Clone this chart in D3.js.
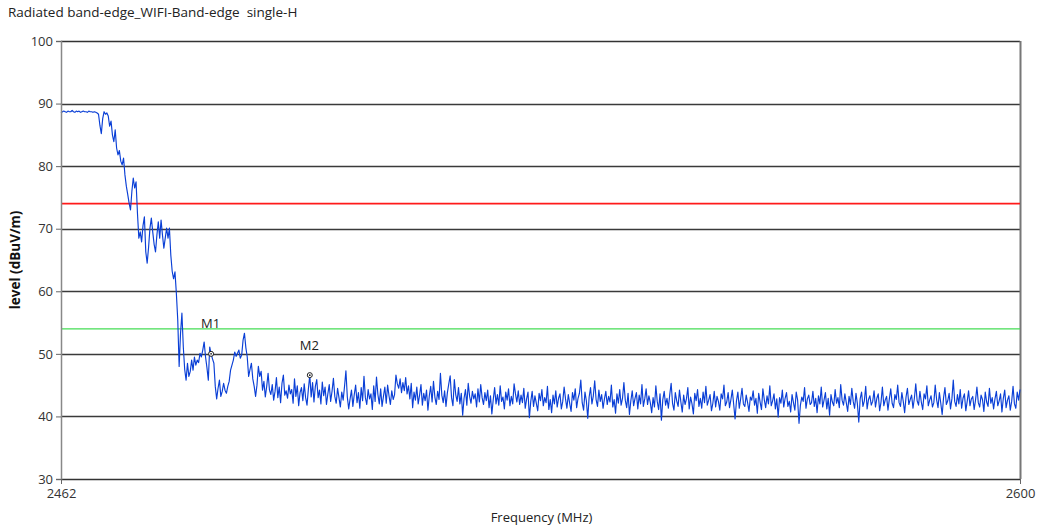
<!DOCTYPE html>
<html>
<head>
<meta charset="utf-8">
<script src="https://cdn.jsdelivr.net/npm/d3@7"></script>
<style>
  html, body { margin: 0; padding: 0; background: #fff; }
  svg { display: block; font-family: "Open Sans", "Noto Sans", sans-serif; }
</style>
</head>
<body>
<svg id="chart" width="1038" height="529"></svg>
<script>
// ---------- data ----------
const title = "Radiated band-edge_WIFI-Band-edge  single-H";
const xLabel = "Frequency (MHz)";
const yLabel = "level (dBuV/m)";
const freqStart = 2462;
const freqEnd = 2600;
const xTickValues = [2462, 2600];
const yTickValues = [30, 40, 50, 60, 70, 80, 90, 100];
const limitLevels = [74, 54];           // red, green limit lines
const markerNames = ["M1", "M2"];
const markerFreqs = [2483.6, 2497.8];
const markerLevels = [50.0, 46.6];

// swept trace levels (dBuV/m), evenly spaced from freqStart to freqEnd
const levels = [
  88.5, 88.7, 88.8, 88.7, 88.6, 88.8, 88.7, 88.7, 88.9, 88.7, 88.6, 88.8, 88.7, 88.8, 88.6, 88.7, 88.8, 88.7, 88.7, 88.6,
  88.8, 88.7, 88.7, 88.6, 88.7, 88.6, 88.5, 88.3,
  86.5, 85.2, 87.6, 88.7, 88.3, 88.5, 88.0, 86.4, 87.2, 85.0, 83.9, 85.8, 82.9, 81.8, 82.5, 80.8, 80.2, 81.3, 78.6, 76.8,
  75.5, 74.1, 73.0, 76.0, 78.1, 76.5, 77.5, 72.5, 68.5, 69.5, 67.9, 70.5, 71.9, 66.3, 64.5, 67.0, 70.1, 71.7, 69.5, 67.5,
  66.3, 69.0, 71.1, 68.5, 71.4, 69.0, 66.9, 68.5, 70.1, 68.5, 70.1, 65.8, 63.2, 62.0, 63.1, 59.7, 55.4, 48.0, 53.3, 56.5,
  51.1, 47.5, 45.8, 48.5, 46.4, 47.2, 49.0, 47.4, 49.5, 48.2, 49.0, 48.6, 50.1, 49.5, 50.6, 51.9, 49.5, 47.8, 45.8, 51.1,
  50.0, 49.2, 48.5, 44.8, 42.8, 44.5, 45.8, 43.2, 44.0, 45.3, 44.2, 43.7, 44.8, 45.6, 47.4, 48.2, 49.0, 50.3, 49.6, 50.1,
  50.6, 49.3, 49.8, 52.2, 53.3, 51.0, 49.5, 46.4, 47.5, 48.5, 46.0, 44.8, 43.2, 45.0, 48.0, 46.4, 47.2, 44.2,
  45.6, 43.1, 44.8, 46.9, 44.2, 43.5, 45.1, 42.6, 44.0, 46.2, 43.0, 44.7, 42.2, 45.3, 46.6, 43.4, 44.1, 42.9, 45.0, 43.6,
  44.3, 42.1, 46.0, 43.2, 44.9, 41.7, 43.8, 44.6, 42.5, 45.2, 43.0, 41.8, 44.4, 46.6, 43.1, 45.4, 42.3, 44.8, 45.9, 43.0,
  44.2, 42.0, 45.5, 43.3, 44.7, 41.9, 43.6, 45.1, 42.4, 44.0, 46.1, 43.2, 42.1, 44.5, 43.0, 41.5, 43.9, 42.6, 44.8, 47.3,
  43.1, 41.2, 42.8, 44.2, 41.6, 43.5, 45.0, 42.2, 43.8, 41.3, 44.6, 42.5, 46.4, 43.0, 41.9, 44.3, 42.8, 43.6, 41.1, 44.9,
  42.4, 46.3, 43.5, 42.0, 44.4, 41.6, 43.2, 44.7, 42.1, 45.0, 43.3, 41.9, 44.1, 42.7, 43.5, 46.6, 45.2, 44.5, 46.0, 43.8,
  45.4, 44.1, 46.2, 43.6, 44.9, 42.8, 45.3, 41.4, 43.9, 42.6, 44.7, 42.0, 43.4, 45.1, 41.8, 43.7, 42.5, 44.2, 41.0, 43.3,
  44.8, 42.3, 45.6, 43.1, 41.9, 44.0, 42.7, 46.9, 43.4, 42.2, 44.1, 41.6, 43.8, 45.2, 46.5, 43.0, 41.7, 45.9, 43.5, 42.4,
  44.6, 42.0, 43.7, 40.2, 42.9, 44.3, 41.8, 45.3, 43.2, 42.1, 44.0, 42.8, 43.6, 41.5, 44.4, 42.3, 45.1, 43.0, 41.9, 43.8,
  42.5, 44.2, 41.4, 43.3, 40.4, 42.7, 44.6, 42.0, 43.5, 41.8, 44.9, 42.4, 43.1, 41.2, 43.9, 42.6, 44.4, 41.7, 43.2, 42.0,
  45.2, 43.6, 42.3, 44.1, 41.9, 43.4, 42.2, 44.5, 41.3, 42.8, 43.9, 39.8, 42.4, 44.0, 41.6, 43.3, 42.1, 40.9, 43.7, 42.5,
  44.3, 41.7, 43.0, 42.2, 44.8, 41.1, 42.7, 40.6, 43.4, 42.0, 44.1, 41.5, 42.9, 43.6, 41.2, 42.4, 44.7, 42.8, 41.3, 43.5,
  42.1, 40.8, 43.8, 42.6, 44.4, 41.4, 42.9, 43.7, 45.8, 42.2, 41.0, 43.9, 42.5, 39.7, 43.1, 44.6, 42.0, 43.3, 45.7, 42.7,
  41.6, 44.2, 42.4, 43.5, 41.3, 42.8, 44.0, 41.9, 43.2, 42.3, 45.0, 41.5, 42.7, 40.5, 43.6, 42.1, 44.3, 41.8, 42.9, 45.4,
  42.6, 41.4, 43.7, 40.3, 42.5, 44.1, 41.7, 42.9, 43.8, 41.2, 43.4, 42.0, 45.1, 41.6, 42.8, 44.4, 41.9, 43.3, 42.2, 40.6,
  43.0, 41.5, 44.9, 42.4, 41.1, 43.6, 39.4, 42.7, 44.0, 41.8, 42.9, 41.3, 43.5, 45.3, 42.1, 41.0, 43.8, 42.5, 41.6, 44.2,
  42.3, 40.7, 43.4, 41.9, 42.8, 44.6, 41.2, 43.1, 42.0, 40.4, 43.7, 42.5, 44.3, 41.6, 42.9, 41.3, 43.9, 42.2, 44.8, 41.8,
  42.6, 43.5, 40.9, 42.1, 44.0, 41.5, 43.2, 42.4, 41.0, 43.6, 42.8, 45.0, 41.7, 42.3, 43.8, 41.4, 42.7, 44.2, 41.9, 39.6,
  42.5, 43.9, 41.3, 42.8, 44.5, 42.0, 41.6, 43.4, 42.2, 40.8, 43.1, 42.6, 44.1, 41.8, 42.9, 40.5, 43.7, 42.3, 41.1, 44.4,
  42.7, 41.4, 43.3, 42.0, 44.9, 41.7, 42.5, 43.6, 41.2, 42.8, 39.9, 43.0, 42.1, 44.2, 41.5, 42.9, 43.8, 41.6, 42.4, 40.7,
  43.5, 42.2, 41.0, 43.9, 42.6, 38.9, 41.8, 43.1, 42.4, 44.6, 41.3, 42.8, 43.4, 41.9, 42.2, 44.0, 41.6, 42.9, 40.6, 43.3,
  42.0, 44.7, 41.5, 42.6, 43.8, 41.2, 42.9, 40.2, 43.5, 42.3, 41.7, 44.3, 42.1, 43.0, 41.4, 45.1, 42.6, 41.8, 43.6, 42.2,
  40.8, 43.2, 41.9, 44.5, 42.4, 41.3, 43.7, 42.0, 39.1, 42.8, 43.9, 41.6, 42.5, 44.8, 41.2, 42.7, 43.3, 41.8, 42.4, 44.1,
  41.5, 42.9, 43.6, 40.9, 42.3, 44.7, 41.7, 42.6, 43.2, 41.0, 42.8, 44.4, 42.1, 41.4, 43.5, 42.7, 45.0, 42.2, 41.6, 43.8,
  42.4, 40.6, 43.1, 44.5, 41.9, 42.7, 43.4, 41.3, 42.9, 45.2, 42.5, 41.8, 44.0, 42.3, 41.1, 43.6, 42.8, 44.9, 41.7, 42.6,
  43.3, 41.5, 42.2, 45.0, 42.7, 41.4, 43.8, 42.1, 40.3, 43.0, 44.6, 41.9, 42.5, 43.7, 41.2, 42.8, 45.8, 42.4, 41.6, 43.5,
  42.0, 44.3, 41.3, 42.9, 43.6, 40.9, 42.4, 44.1, 41.7, 42.8, 43.2, 41.1, 42.6, 44.7, 42.2, 41.5, 43.4, 42.7, 40.8, 43.9,
  42.3, 41.6, 44.5, 42.1, 43.0, 41.2, 42.8, 44.0, 41.7, 42.5, 43.6, 40.7, 42.9, 44.2, 41.4, 42.6, 43.3, 41.0, 42.4, 44.8,
  42.0, 41.3, 43.9, 42.6, 44.3
];

// ---------- layout ----------
const svg = d3.select("#chart");
const margin = { left: 61, right: 18, top: 41, bottom: 50 };
const W = 1038, H = 529;
const x = d3.scaleLinear().domain([freqStart, freqEnd]).range([margin.left, W - margin.right]);
const y = d3.scaleLinear().domain([30, 100]).range([H - margin.bottom, margin.top]);
const step = (freqEnd - freqStart) / (levels.length - 1);
const trace = levels.map((v, i) => ({ f: freqStart + i * step, v }));

// title (keep the double space)
svg.append("text").attr("x", 8).attr("y", 17)
  .attr("font-size", 13.5).attr("fill", "#222")
  .style("white-space", "pre").attr("xml:space", "preserve").text(title);

// horizontal gridlines (40..90) and frame
const grid = svg.append("g");
grid.selectAll("line.g").data(yTickValues.filter(d => d > 30 && d < 100)).join("line")
  .attr("x1", x(freqStart)).attr("x2", x(freqEnd))
  .attr("y1", d => Math.round(y(d)) + 0.5).attr("y2", d => Math.round(y(d)) + 0.5)
  .attr("stroke", "#3a3a3a").attr("stroke-width", 1.3);
[100, 30].forEach(d => {
  grid.append("line")
    .attr("x1", x(freqStart)).attr("x2", x(freqEnd))
    .attr("y1", Math.round(y(d)) + 0.5).attr("y2", Math.round(y(d)) + 0.5)
    .attr("stroke", "#333").attr("stroke-width", 1.3);
});
grid.append("line")
  .attr("x1", x(freqEnd) + 0.5).attr("x2", x(freqEnd) + 0.5)
  .attr("y1", y(100)).attr("y2", y(30))
  .attr("stroke", "#777").attr("stroke-width", 2);

// limit lines
const limitColors = ["#ff1a1a", "#44dd55"];
svg.append("g").selectAll("line").data(limitLevels).join("line")
  .attr("x1", x(freqStart)).attr("x2", x(freqEnd))
  .attr("y1", d => y(d)).attr("y2", d => y(d))
  .attr("stroke", (d, i) => limitColors[i])
  .attr("stroke-width", (d, i) => i === 0 ? 1.8 : 1.3);

// trace
svg.append("path").datum(trace)
  .attr("fill", "none").attr("stroke", "#0a3fd6").attr("stroke-width", 1.15)
  .attr("stroke-linejoin", "round")
  .attr("d", d3.line().x(d => x(d.f)).y(d => y(d.v)));

// markers
const mk = svg.append("g");
markerNames.forEach((name, i) => {
  const mx = x(markerFreqs[i]), my = y(markerLevels[i]);
  mk.append("circle").attr("cx", mx).attr("cy", my).attr("r", 2.5)
    .attr("fill", "#fff").attr("stroke", "#222").attr("stroke-width", 1);
  mk.append("circle").attr("cx", mx).attr("cy", my).attr("r", 0.9).attr("fill", "#222");
  mk.append("text").attr("x", mx - 10).attr("y", my - (i === 0 ? 26 : 25))
    .attr("font-size", 13).attr("fill", "#222").text(name);
});

// y axis
const yAxis = svg.append("g").attr("transform", `translate(${x(freqStart)},0)`)
  .call(d3.axisLeft(y).tickValues(yTickValues).tickSize(5).tickPadding(3));
yAxis.select(".domain").attr("stroke", "#888").attr("stroke-width", 1.5);
yAxis.selectAll(".tick line").attr("stroke", "#666");
yAxis.selectAll("text").attr("font-size", 13).attr("fill", "#333")
  .attr("font-family", "'Open Sans', 'Noto Sans', sans-serif");

// x axis
const xAxis = svg.append("g").attr("transform", `translate(0,${y(30)})`)
  .call(d3.axisBottom(x).tickValues(xTickValues).tickFormat(d3.format("d")).tickSize(5).tickPadding(5));
xAxis.select(".domain").remove();
xAxis.selectAll(".tick line").attr("stroke", "#666");
xAxis.selectAll("text").attr("font-size", 13).attr("fill", "#333")
  .attr("font-family", "'Open Sans', 'Noto Sans', sans-serif");

// axis titles
svg.append("text").attr("x", (x(freqStart) + x(freqEnd)) / 2 + 1).attr("y", 522)
  .attr("text-anchor", "middle").attr("font-size", 13).attr("fill", "#222").text(xLabel);
svg.append("text").attr("transform", `translate(20,${(y(30) + y(100)) / 2}) rotate(-90)`)
  .attr("text-anchor", "middle").attr("font-size", 13.5).attr("font-weight", "bold")
  .attr("fill", "#111").text(yLabel);
</script>
</body>
</html>
